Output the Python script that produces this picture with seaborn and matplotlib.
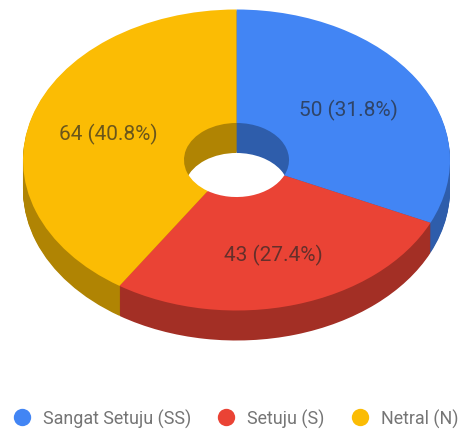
import numpy as np
import matplotlib
matplotlib.use("Agg")
import matplotlib.pyplot as plt
from matplotlib.lines import Line2D
import seaborn as sns

categories = ["Sangat Setuju (SS)", "Setuju (S)", "Netral (N)"]
values = [50, 43, 64]
top_colors = ["#4285F4", "#EA4335", "#FBBC04"]
side_colors = ["#2E5DAB", "#A32F25", "#B08403"]

sns.set_theme(style="white")
plt.rcParams["font.family"] = ["Roboto", "DejaVu Sans"]

W, H = 460, 431
fig = plt.figure(figsize=(W / 100, H / 100), dpi=100, facecolor="white")
ax = fig.add_axes([0, 0, 1, 1])

cx, cy, rx, ry, depth = 236.5, 161.0, 213.5, 150.5, 30.0
hole = 0.246
total = sum(values)
top_palette = sns.color_palette(top_colors)
side_palette = sns.color_palette(side_colors)

for k in np.linspace(depth / ry, 0, 31)[:-1]:
    ax.pie(values, colors=side_palette, startangle=90, counterclock=False,
           center=(0, -k), radius=1,
           wedgeprops=dict(width=1 - hole, linewidth=0))

_, _, autotexts = ax.pie(
    values, colors=top_palette, startangle=90, counterclock=False,
    center=(0, 0), radius=1, pctdistance=0.625,
    autopct=lambda p: f"{round(p * total / 100)} ({p:.1f}%)",
    wedgeprops=dict(width=1 - hole, linewidth=0),
)
for t in autotexts:
    t.set_fontsize(15)
    t.set_color("#262626")
    t.set_alpha(0.68)
autotexts[1].set_y(autotexts[1].get_position()[1] - 0.03)

ax.set_aspect("auto")
ax.set_xlim(-cx / rx, (W - cx) / rx)
ax.set_ylim(-(H - cy) / ry, cy / ry)

handles = [Line2D([], [], linestyle="none", marker="o", markersize=12.5,
                  markerfacecolor=c, markeredgewidth=0) for c in top_palette]
leg = ax.legend(handles, categories, loc="center left", ncol=3, frameon=False,
                bbox_to_anchor=(0.0, (H - 419) / H), bbox_transform=fig.transFigure,
                fontsize=12.9, labelcolor="#757575", borderpad=0, borderaxespad=0.72,
                handlelength=1.0, handletextpad=0.66, columnspacing=1.48)

fig.savefig("out.png", dpi=100)
